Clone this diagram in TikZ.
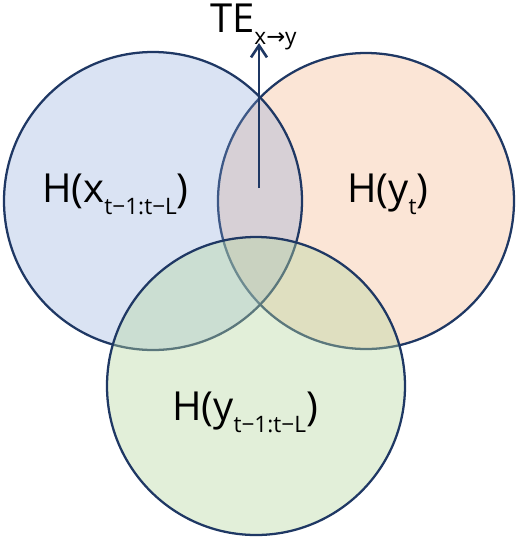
\documentclass[tikz,border=0pt]{standalone}
\usepackage{fontspec}
\setmainfont{Open Sans}
\newfontfamily\arrowfont{DejaVu Sans}
\usetikzlibrary{arrows.meta}
\definecolor{vnavy}{RGB}{31,56,100}
\definecolor{vblue}{RGB}{132,162,215}
\definecolor{vorange}{RGB}{242,168,118}
\definecolor{vgreen}{RGB}{182,215,160}
\newcommand{\lowidx}[1]{\raisebox{-0.3em}{\fontsize{17}{19}\selectfont #1}}
\tikzset{every picture/.style={line width=1.5pt}}
\tikzset{
  vset/.style={draw=vnavy,line width=1.7pt},
  hlabel/.style={anchor=base west,inner sep=0pt,font=\fontsize{30}{35}\selectfont},
  tearrow/.style={draw=vnavy,line width=2pt,-{Straight Barb[length=9pt,width=12pt]}}
}

\begin{document}
\begin{tikzpicture}[x=0.75pt,y=0.75pt,yscale=-1]
\useasboundingbox (0,0) rectangle (520,540);
%Shape: Circle [id:right]
\draw [vset, fill=vorange, fill opacity=0.3] (366,201) circle [x radius=148, y radius=148];
%Shape: Circle [id:left]
\draw [vset, fill=vblue, fill opacity=0.3] (153,201) circle [x radius=149, y radius=149];
%Shape: Circle [id:bottom]
\draw [vset, fill=vgreen, fill opacity=0.4] (256,386) circle [x radius=149, y radius=149];
%Straight Lines [id:te]
\coordinate (tefoot) at (259,188);
\coordinate (tetip) at (259,43);
\draw [tearrow] (tefoot) -- (tetip);

% Text Node
\draw (41,202) node [hlabel] (hx) {H(x\lowidx{t−1:t−L})};
% Text Node
\draw (346,202) node [hlabel] (hy) {H(y\lowidx{t})};
% Text Node
\draw (171,420) node [hlabel] (hyl) {H(y\lowidx{t−1:t−L})};
% Text Node
\draw (209,32) node [hlabel] (te) {TE\lowidx{x{\arrowfont →}y}};

\end{tikzpicture}
\end{document}
